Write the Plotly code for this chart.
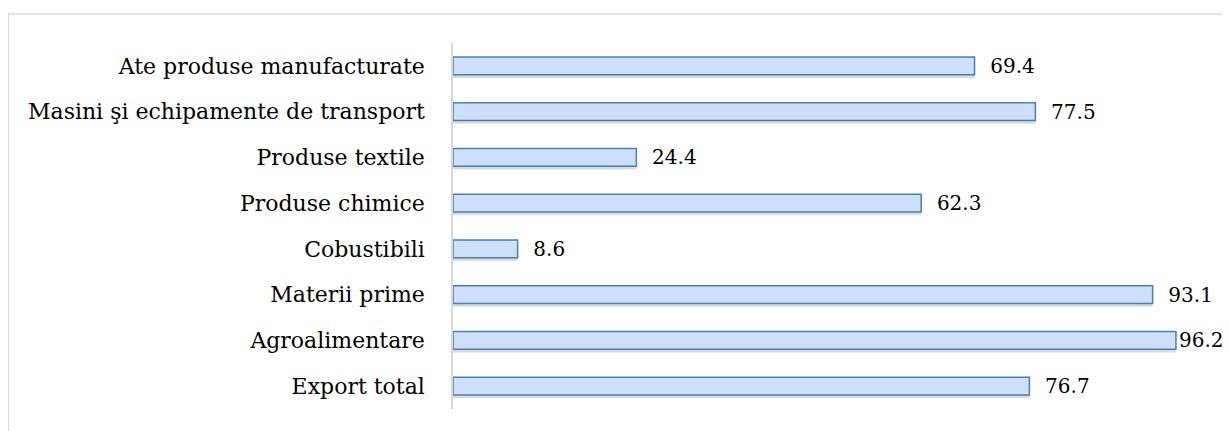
import plotly.graph_objects as go

# categories top to bottom
categories = [
    "Ate produse manufacturate",
    "Masini şi echipamente de transport",
    "Produse textile",
    "Produse chimice",
    "Cobustibili",
    "Materii prime",
    "Agroalimentare",
    "Export total",
]
values = [69.4, 77.5, 24.4, 62.3, 8.6, 93.1, 96.2, 76.7]
value_labels = ["  69.4", "  77.5", "  24.4", "  62.3", "  8.6", "  93.1", "96.2", "  76.7"]

bar_width = 0.39
font_family = "DejaVu Serif"
font_size = 22
value_font_size = 20

fig = go.Figure()

# soft shadow under each bar
fig.add_trace(go.Bar(
    y=categories,
    x=values,
    orientation="h",
    width=bar_width,
    offset=-bar_width / 2 + 0.07,
    marker=dict(color="rgba(0,0,0,0.14)", line=dict(width=0)),
    hoverinfo="skip",
    showlegend=False,
))

fig.add_trace(go.Bar(
    y=categories,
    x=values,
    orientation="h",
    width=bar_width,
    offset=-bar_width / 2,
    marker=dict(color="#cddff9", line=dict(color="#4a7ebb", width=1.5)),
    text=value_labels,
    textposition="outside",
    textfont=dict(family=font_family, size=value_font_size, color="black"),
    constraintext="none",
    cliponaxis=False,
    showlegend=False,
))

# page body adds ~8px offset, so figure is a bit smaller than the window
fig.update_layout(
    width=1222,
    height=424,
    barmode="overlay",
    plot_bgcolor="white",
    paper_bgcolor="white",
    font=dict(family=font_family, size=font_size, color="black"),
    margin=dict(l=445, r=18, t=35, b=23),
    xaxis=dict(range=[0, 101], showgrid=False, zeroline=False,
               showticklabels=False, showline=False),
    yaxis=dict(autorange="reversed", showgrid=False, zeroline=False,
               showline=True, linecolor="#d9d9d9", linewidth=1.5,
               ticks="", ticklabelstandoff=22),
    shapes=[dict(type="rect", xref="paper", yref="paper",
                 x0=-0.586, x1=1.2, y0=-0.3, y1=1.079,
                 line=dict(color="#d9d9d9", width=1.5), layer="below")],
)

fig.write_html("out.html")
